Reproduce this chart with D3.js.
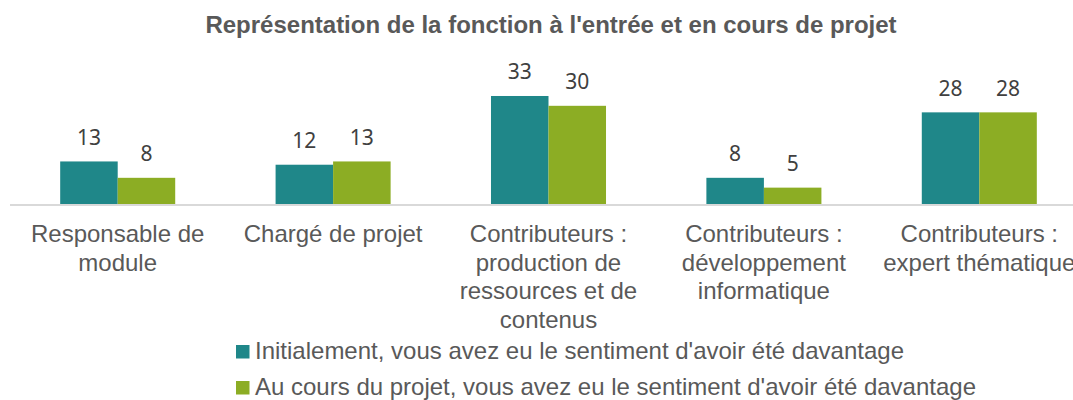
<!DOCTYPE html>
<html>
<head>
<meta charset="utf-8">
<script src="https://cdn.jsdelivr.net/npm/d3@7"></script>
<style>
  body { margin: 0; background: #fff; }
  svg { display: block; }
</style>
</head>
<body>
<svg id="chart" width="1073" height="400"></svg>
<script>
// chart data
const title = "Représentation de la fonction à l'entrée et en cours de projet";
const categories = [
  'Responsable de module',
  'Chargé de projet',
  'Contributeurs : production de ressources et de contenus',
  'Contributeurs : développement informatique',
  'Contributeurs : expert thématique',
];
const seriesNames = [
  "Initialement, vous avez eu le sentiment d'avoir été davantage",
  "Au cours du projet, vous avez eu le sentiment d'avoir été davantage",
];
const initialValues = [13, 12, 33, 8, 28];
const projectValues = [8, 13, 30, 5, 28];
const seriesValues = [initialValues, projectValues];

const colors = ['#1f8789', '#8cad24'];
const theme = { title: '#595959', label: '#404040', axis: '#d9d9d9', text: '#595959' };
const fontArial = '"Liberation Sans", Arial, sans-serif';

const svg = d3.select('#chart');
const baseY = 204;

// scales
const x = d3.scaleBand()
  .domain(categories)
  .range([10, 1087])
  .paddingInner(0.466)
  .paddingOuter(0.233);

const xs = d3.scaleBand()
  .domain(d3.range(seriesValues.length))
  .range([0, x.bandwidth()]);

const y = d3.scaleLinear()
  .domain([0, 35])
  .range([baseY, baseY - 35 * 3.273]);

// title
svg.append('text')
  .attr('x', 551)
  .attr('y', 33)
  .attr('text-anchor', 'middle')
  .style('font-family', fontArial)
  .style('font-weight', 'bold')
  .style('font-size', '24px')
  .style('fill', theme.title)
  .text(title);

// bars
const groups = svg.append('g')
  .selectAll('g')
  .data(categories)
  .join('g')
  .attr('transform', (d) => `translate(${x(d)},0)`);

groups.selectAll('rect')
  .data((d, i) => seriesValues.map((vals, s) => ({ s, v: vals[i] })))
  .join('rect')
  .attr('x', (d) => xs(d.s))
  .attr('y', (d) => y(d.v))
  .attr('width', xs.bandwidth())
  .attr('height', (d) => y(0) - y(d.v))
  .attr('fill', (d) => colors[d.s]);

// data labels
groups.selectAll('text.value')
  .data((d, i) => seriesValues.map((vals, s) => ({ s, v: vals[i] })))
  .join('text')
  .attr('class', 'value')
  .attr('x', (d) => xs(d.s) + xs.bandwidth() / 2)
  .attr('y', (d) => y(d.v) - 16.5)
  .attr('text-anchor', 'middle')
  .style('font-family', '"Noto Sans", sans-serif')
  .style('font-size', '21px')
  .style('fill', theme.label)
  .text((d) => d.v);

// x axis line
svg.append('line')
  .attr('x1', 10)
  .attr('x2', 1073)
  .attr('y1', baseY + 1)
  .attr('y2', baseY + 1)
  .style('stroke', theme.axis)
  .style('stroke-width', 2);

// category labels, wrapped like the spreadsheet does
const wrapWidth = 210;
const catLabels = svg.append('g')
  .selectAll('text')
  .data(categories)
  .join('text')
  .attr('text-anchor', 'middle')
  .style('font-family', fontArial)
  .style('font-size', '24px')
  .style('fill', theme.text);

catLabels.each(function (d) {
  const el = d3.select(this);
  const cx = x(d) + x.bandwidth() / 2;
  const words = d.split(' ');
  const lines = [];
  let line = [];
  const probe = el.append('tspan');
  words.forEach((w) => {
    line.push(w);
    probe.text(line.join(' '));
    if (probe.node().getComputedTextLength() > wrapWidth && line.length > 1) {
      line.pop();
      lines.push(line.join(' '));
      line = [w];
    }
  });
  lines.push(line.join(' '));
  probe.remove();
  lines.forEach((t, i) => {
    el.append('tspan')
      .attr('x', cx)
      .attr('y', 242 + i * 28.6)
      .text(t);
  });
});

// legend
const legend = svg.append('g')
  .selectAll('g')
  .data(seriesNames)
  .join('g')
  .attr('transform', (d, i) => `translate(236,${345 + i * 36})`);

legend.append('rect')
  .attr('width', 13.5)
  .attr('height', 13.5)
  .attr('fill', (d, i) => colors[i]);

legend.append('text')
  .attr('x', 19)
  .attr('y', 14)
  .style('font-family', fontArial)
  .style('font-size', '24px')
  .style('fill', theme.text)
  .text((d) => d);
</script>
</body>
</html>
